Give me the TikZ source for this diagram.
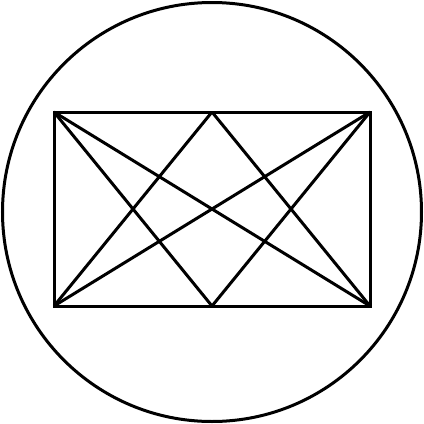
\documentclass[tikz,border=0pt]{standalone}
\begin{document}
\begin{tikzpicture}[x=1pt,y=-1pt,line width=3pt,line join=miter,
  edge/.style={draw=black}]
\useasboundingbox (0,0) rectangle (424,424);
\coordinate (c) at (212,212);
\coordinate (tl) at (54,112);
\coordinate (tr) at (370,112);
\coordinate (bl) at (54,306);
\coordinate (br) at (370,306);
\coordinate (tm) at (212,112);
\coordinate (bm) at (212,306);
\draw[edge] (c) circle[radius=209.5];
\draw[edge] (tl) rectangle (br);
\draw[edge] (tl) -- (br);
\draw[edge] (tr) -- (bl);
\draw[edge] (tl) -- (bm);
\draw[edge] (tr) -- (bm);
\draw[edge] (bl) -- (tm);
\draw[edge] (br) -- (tm);
\end{tikzpicture}
\end{document}
